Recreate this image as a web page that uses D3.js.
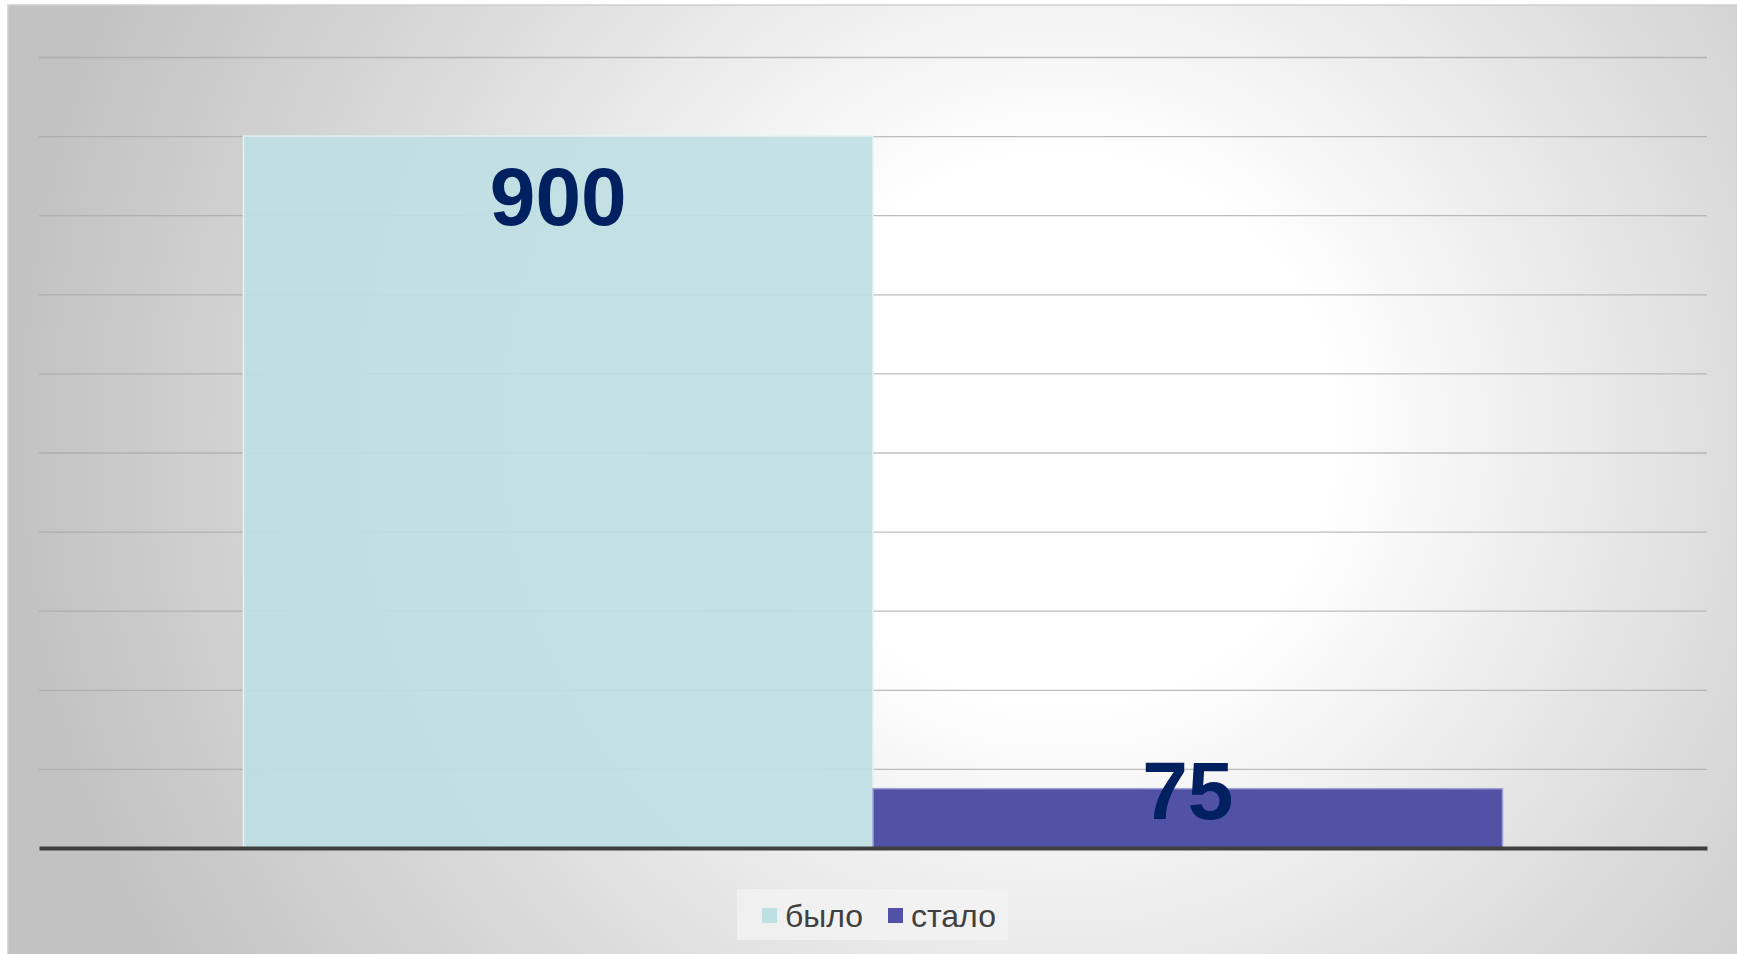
<!DOCTYPE html>
<html><head><meta charset="utf-8">
<script src="https://cdn.jsdelivr.net/npm/d3@7"></script>
<style>html,body{margin:0;padding:0;background:#fff;overflow:hidden}</style>
</head><body><svg id="c" width="1737" height="954"></svg>
<script>
const categories = ["Показатель"];
const seriesNames = ["было", "стало"];
const seriesValues = [900, 75];
const yTicks = [0, 100, 200, 300, 400, 500, 600, 700, 800, 900, 1000];
const seriesColors = ["#bfe0e3", "#5152a6"];

(function () {
const W = 1737, H = 954;
const svg = d3.select("#c");
const defs = svg.append("defs");
const bg = defs.append("radialGradient").attr("id", "bg")
  .attr("gradientUnits", "userSpaceOnUse").attr("cx", 1060).attr("cy", 430).attr("r", 1050);
bg.append("stop").attr("offset", "0").attr("stop-color", "#ffffff");
bg.append("stop").attr("offset", "0.26").attr("stop-color", "#ffffff");
bg.append("stop").attr("offset", "0.68").attr("stop-color", "#dadada");
bg.append("stop").attr("offset", "1").attr("stop-color", "#c2c2c2");

svg.append("rect").attr("x", 8).attr("y", 5).attr("width", W - 8).attr("height", H)
  .attr("fill", "url(#bg)").attr("stroke", "#cfcfcf").attr("stroke-width", 1.5);

const mLeft = 39, mRight = 1707, mTop = 57, mBottom = 848;
const y = d3.scaleLinear().domain([0, 1000]).range([mBottom, mTop]);
const x0 = d3.scaleBand().domain(categories).range([mLeft, mRight]).paddingInner(0).paddingOuter(0.1624);
const x1 = d3.scaleBand().domain(seriesNames).range([0, x0.bandwidth()]).padding(0);

// gridlines
const grid = svg.append("g").attr("transform", `translate(${mLeft},0)`)
  .call(d3.axisLeft(y).tickValues(yTicks.filter(t => t > 0)).tickSize(-(mRight - mLeft)).tickFormat(""));
grid.select(".domain").remove();
grid.selectAll(".tick line").attr("stroke", "#a8a8a8").attr("stroke-width", 1.3).attr("stroke-opacity", 0.75);

// bars
const data = seriesNames.map((s, i) => ({ cat: categories[0], s, v: seriesValues[i], c: seriesColors[i] }));
const g = svg.append("g");
g.selectAll("rect.bar").data(data).join("rect").attr("class", "bar")
  .attr("x", d => x0(d.cat) + x1(d.s))
  .attr("y", d => y(d.v))
  .attr("width", x1.bandwidth())
  .attr("height", d => y(0) - y(d.v))
  .attr("fill", d => d.c)
  .attr("fill-opacity", (d, i) => i === 0 ? 0.92 : 1)
  .attr("stroke", (d, i) => i === 0 ? "#e4f3f4" : "#9f9fd6")
  .attr("stroke-width", 1.5);

// axis baseline
const ax = svg.append("g").attr("transform", `translate(0,${mBottom})`)
  .call(d3.axisBottom(x0).tickSize(0).tickFormat(""));
ax.select(".domain").attr("stroke", "#404040").attr("stroke-width", 4);

// labels
g.selectAll("text.lbl").data(data).join("text").attr("class", "lbl")
  .attr("x", d => x0(d.cat) + x1(d.s) + x1.bandwidth() / 2)
  .attr("y", d => (y(0) - y(d.v)) > 150 ? y(d.v) + 89 : y(d.v) + 30)
  .attr("text-anchor", "middle")
  .attr("font-family", "Liberation Sans, Arial, sans-serif")
  .attr("font-weight", "bold").attr("font-size", 82)
  .attr("fill", "#002060")
  .text(d => d.v);

// legend
const lg = svg.append("g");
lg.append("rect").attr("x", 737).attr("y", 889).attr("width", 271).attr("height", 51).attr("fill", "#f2f2f2").attr("fill-opacity", 0.8);
const items = [{ x: 762 }, { x: 888 }];
seriesNames.forEach((s, i) => {
  lg.append("rect").attr("x", items[i].x).attr("y", 908).attr("width", 15).attr("height", 15).attr("fill", seriesColors[i]);
  lg.append("text").attr("x", items[i].x + 23).attr("y", 927)
    .attr("font-family", "Liberation Sans, Arial, sans-serif").attr("font-size", 32)
    .attr("fill", "#404040").text(s);
});
})();
</script></body></html>
